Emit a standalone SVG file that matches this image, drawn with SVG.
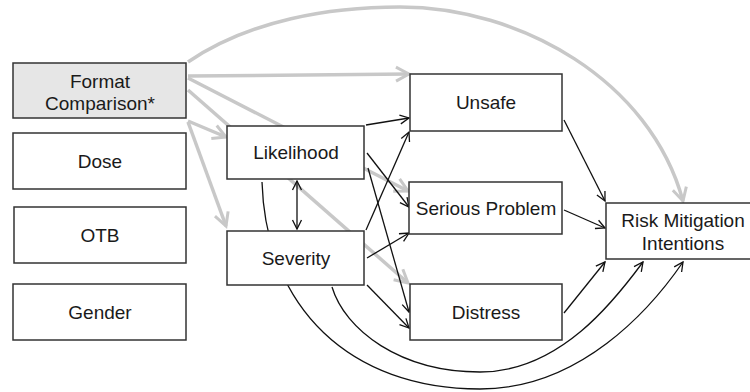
<svg xmlns="http://www.w3.org/2000/svg" width="750" height="392" viewBox="0 0 750 392">
<defs>
<style>
.box{fill:#fff;stroke:#333;stroke-width:1.5}
.shaded{fill:#e6e6e6}
.lbl{font-family:"Liberation Sans",Arial,sans-serif;font-size:19px;fill:#1a1a1a;text-anchor:middle}
.g{fill:none;stroke:#c8c8c8;stroke-width:3.5;marker-end:url(#ag)}
.b{fill:none;stroke:#111;stroke-width:1.3;marker-end:url(#ab)}
</style>
<marker id="ag" markerUnits="userSpaceOnUse" markerWidth="18" markerHeight="18" viewBox="0 0 18 18" refX="15" refY="9" orient="auto">
<path d="M2,2 L15,9 L2,16" fill="none" stroke="#c8c8c8" stroke-width="3"/>
</marker>
<marker id="ab" markerUnits="userSpaceOnUse" markerWidth="12" markerHeight="12" viewBox="0 0 12 12" refX="10.5" refY="6" orient="auto-start-reverse">
<path d="M1.5,1.5 L10.5,6 L1.5,10.5" fill="none" stroke="#111" stroke-width="1.3"/>
</marker>
</defs>
<rect width="750" height="392" fill="#fff"/>
<g id="connectors">
<path class="g" d="M188,62 C250,20 330,7 400,7 C520,7 650,80 683,201"/>
<path class="g" d="M188,76 L409,74"/>
<path class="g" d="M188,78 L408,191"/>
<path class="g" d="M188,90 L408,283"/>
<path class="g" d="M188,121 L226,137"/>
<path class="g" d="M188,122 L226,226"/>
<path class="b" d="M366,125 L409,118"/>
<path class="b" d="M367,153 L409,207"/>
<path class="b" d="M368,168 L409,312"/>
<path class="b" d="M366,230 L409,132"/>
<path class="b" d="M367,258 L409,233"/>
<path class="b" d="M367,285 L409,328"/>
<path class="b" d="M297,181 L297,229" style="marker-start:url(#ab)"/>
<path class="b" d="M564,120 L605,201"/>
<path class="b" d="M564,210 L605,228"/>
<path class="b" d="M564,313 L605,262"/>
<path class="b" d="M262,182 C266,308 350,389 480,389 C580,389 650,310 683,262"/>
<path class="b" d="M332,287 C345,330 400,372 480,372 C560,372 615,300 643,262"/>
</g>
<g id="format"><rect class="box shaded" x="13" y="63" width="173" height="55"/><text class="lbl" x="100" y="88">Format</text><text class="lbl" x="100" y="110">Comparison*</text></g>
<g id="dose"><rect class="box" x="13" y="133" width="173" height="56"/><text class="lbl" x="100" y="168">Dose</text></g>
<g id="otb"><rect class="box" x="14" y="207" width="172" height="56"/><text class="lbl" x="100" y="242">OTB</text></g>
<g id="gender"><rect class="box" x="13" y="284" width="173" height="56"/><text class="lbl" x="100" y="319">Gender</text></g>
<g id="likelihood"><rect class="box" x="227" y="126" width="137" height="53"/><text class="lbl" x="296" y="159">Likelihood</text></g>
<g id="severity"><rect class="box" x="227" y="231" width="137" height="54"/><text class="lbl" x="296" y="265">Severity</text></g>
<g id="unsafe"><rect class="box" x="410" y="74" width="152" height="57"/><text class="lbl" x="486" y="109">Unsafe</text></g>
<g id="serious"><rect class="box" x="409" y="182" width="153" height="52"/><text class="lbl" x="486" y="215">Serious Problem</text></g>
<g id="distress"><rect class="box" x="410" y="284" width="152" height="56"/><text class="lbl" x="486" y="319">Distress</text></g>
<g id="risk"><rect class="box" x="606" y="203" width="160" height="56"/><text class="lbl" x="683" y="227">Risk Mitigation</text><text class="lbl" x="683" y="250">Intentions</text></g>
</svg>
